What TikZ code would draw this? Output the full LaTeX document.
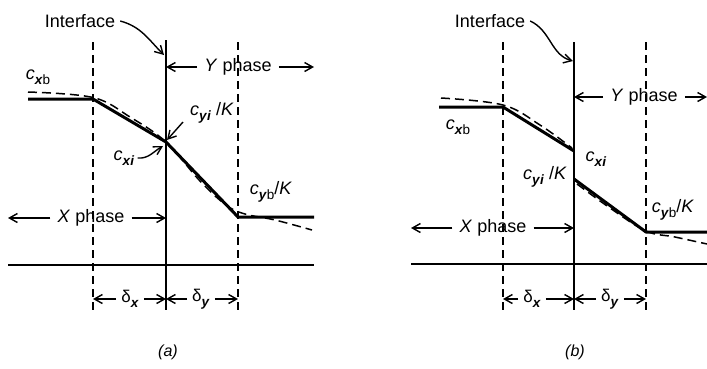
\documentclass[tikz,border=0pt]{standalone}
\usepackage{fontspec}
\setmainfont{Liberation Sans}
\usetikzlibrary{arrows.meta}
\newcommand{\cc}[1]{\textit{c}\raisebox{-0.55ex}{\fontsize{13.5}{13.5}\selectfont #1}}
\newcommand{\bx}{\textbf{\textit{x}}}
\newcommand{\by}{\textbf{\textit{y}}}
\newcommand{\bi}{\textbf{\textit{i}}}
\begin{document}
\begin{tikzpicture}[x=1pt,y=-1pt,
  lbl/.style={font=\fontsize{18}{20}\selectfont, inner sep=0pt},
  gap/.style={inner xsep=7pt, inner ysep=1pt},
  dlbl/.style={font=\fontsize{17}{19}\selectfont, inner xsep=5pt, inner ysep=1pt},
  thinline/.style={line width=1.6pt},
  dashline/.style={line width=1.5pt, dash pattern=on 8pt off 5pt},
  conc/.style={line width=3pt, line join=round},
  dconc/.style={line width=1.5pt, dash pattern=on 9pt off 5pt},
  arr/.style={line width=1.4pt, -{Straight Barb[length=8pt,width=9pt]}},
]
\useasboundingbox (0,0) rectangle (707,368);

% ================= panel (a) =================
\coordinate (aLt) at (93,42);  \coordinate (aLb) at (93,310);
\coordinate (aIt) at (166,40); \coordinate (aIb) at (166,310);
\coordinate (aRt) at (238,42); \coordinate (aRb) at (238,310);
\draw[dashline] (aLt) -- (aLb);
\draw[thinline] (aIt) -- (aIb);
\draw[dashline] (aRt) -- (aRb);
\coordinate (aB0) at (8,265); \coordinate (aB1) at (314,265);
\draw[thinline] (aB0) -- (aB1);

\coordinate (aC0) at (28,99);
\coordinate (aC1) at (93,99);
\coordinate (aC2) at (166,142);
\coordinate (aC3) at (238,217);
\coordinate (aC4) at (314,217);
\draw[conc] (aC0) -- (aC1) -- (aC2) -- (aC3) -- (aC4);
\draw[dconc] plot[smooth, tension=0.6] coordinates {(28,92) (93,97.5) (130,117) (166,142) (200,181) (226,205) (245,214) (275,220) (312,230)};

\node[lbl, inner xsep=5pt] (aIf) at (80,21) {Interface};
\coordinate (aIfT) at (164,55);
\draw[arr] (aIf.east) to[out=-15,in=135] (aIfT);

\node[lbl, gap] (aY) at (238,67) {\textit{Y} phase};
\coordinate (aYl) at (166,67); \coordinate (aYr) at (314,67);
\draw[arr] (aY.west) -- (aYl);
\draw[arr] (aY.east) -- (aYr);

\node[lbl, gap] (aX) at (91,218) {\textit{X} phase};
\coordinate (aXl) at (8,218); \coordinate (aXr) at (166,218);
\draw[arr] (aX.west) -- (aXl);
\draw[arr] (aX.east) -- (aXr);

\node[dlbl] (adx) at (130,299) {δ\raisebox{-0.5ex}{\fontsize{13.5}{13.5}\selectfont\bx}};
\node[dlbl] (ady) at (201,299) {δ\raisebox{-0.5ex}{\fontsize{13.5}{13.5}\selectfont\by}};
\coordinate (adxl) at (93,299); \coordinate (adxr) at (166,299);
\coordinate (adyl) at (166,299); \coordinate (adyr) at (238,299);
\draw[arr] (adx.west) -- (adxl);
\draw[arr] (adx.east) -- (adxr);
\draw[arr] (ady.west) -- (adyl);
\draw[arr] (ady.east) -- (adyr);

\node[lbl] (axb) at (38,77) {\cc{\bx b}};
\node[lbl] (ayi) at (212,113) {\cc{\by\bi} /\textit{K}};
\node[lbl, inner xsep=3pt] (axi) at (124,158) {\cc{\bx\bi}};
\node[lbl] (ayb) at (271,192) {\cc{\by b}/\textit{K}};
\coordinate (ayiS) at (183,122);
\coordinate (ayiT) at (167,140);
\coordinate (axiT) at (163,146);
\draw[arr] (ayiS) -- (ayiT);
\draw[arr] (axi.east) to[out=-5,in=-150] (axiT);

\node[font=\fontsize{16}{18}\selectfont\itshape] (acap) at (168,352) {(a)};

% ================= panel (b) =================
\coordinate (bLt) at (503,42);  \coordinate (bLb) at (503,310);
\coordinate (bIt) at (574,42);  \coordinate (bIb) at (574,310);
\coordinate (bRt) at (646,42);  \coordinate (bRb) at (646,310);
\draw[dashline] (bLt) -- (bLb);
\draw[thinline] (bIt) -- (bIb);
\draw[dashline] (bRt) -- (bRb);
\coordinate (bB0) at (411,264); \coordinate (bB1) at (707,264);
\draw[thinline] (bB0) -- (bB1);

\coordinate (bC0) at (439,107);
\coordinate (bC1) at (503,107);
\coordinate (bC2) at (574,151);
\coordinate (bD0) at (574,179);
\coordinate (bD1) at (646,232);
\coordinate (bD2) at (707,232);
\draw[conc] (bC0) -- (bC1) -- (bC2);
\draw[conc] (bD0) -- (bD1) -- (bD2);
\draw[dconc] plot[smooth, tension=0.6] coordinates {(441,98) (503,105) (540,125) (572,148)};
\draw[dconc] plot[smooth, tension=0.6] coordinates {(577,184) (610,208) (646,231) (675,237) (707,244)};

\node[lbl, inner xsep=5pt] (bIf) at (490,21) {Interface};
\coordinate (bIfT) at (573,61);
\draw[arr] (bIf.east) to[out=-25,in=165] (bIfT);

\node[lbl, gap] (bY) at (644,97) {\textit{Y} phase};
\coordinate (bYl) at (574,97); \coordinate (bYr) at (707,97);
\draw[arr] (bY.west) -- (bYl);
\draw[arr] (bY.east) -- (bYr);

\node[lbl, gap] (bX) at (493,228) {\textit{X} phase};
\coordinate (bXl) at (411,228); \coordinate (bXr) at (574,228);
\draw[arr] (bX.west) -- (bXl);
\draw[arr] (bX.east) -- (bXr);

\node[dlbl] (bdx) at (532,299) {δ\raisebox{-0.5ex}{\fontsize{13.5}{13.5}\selectfont\bx}};
\node[dlbl] (bdy) at (610,299) {δ\raisebox{-0.5ex}{\fontsize{13.5}{13.5}\selectfont\by}};
\coordinate (bdxl) at (503,299); \coordinate (bdxr) at (574,299);
\coordinate (bdyl) at (574,299); \coordinate (bdyr) at (646,299);
\draw[arr] (bdx.west) -- (bdxl);
\draw[arr] (bdx.east) -- (bdxr);
\draw[arr] (bdy.west) -- (bdyl);
\draw[arr] (bdy.east) -- (bdyr);

\node[lbl] (bxb) at (458,127) {\cc{\bx b}};
\node[lbl] (bxi) at (596,159) {\cc{\bx\bi}};
\node[lbl] (byi) at (545,177) {\cc{\by\bi} /\textit{K}};
\node[lbl] (byb) at (673,210) {\cc{\by b}/\textit{K}};

\node[font=\fontsize{16}{18}\selectfont\itshape] (bcap) at (575,352) {(b)};
\end{tikzpicture}
\end{document}
